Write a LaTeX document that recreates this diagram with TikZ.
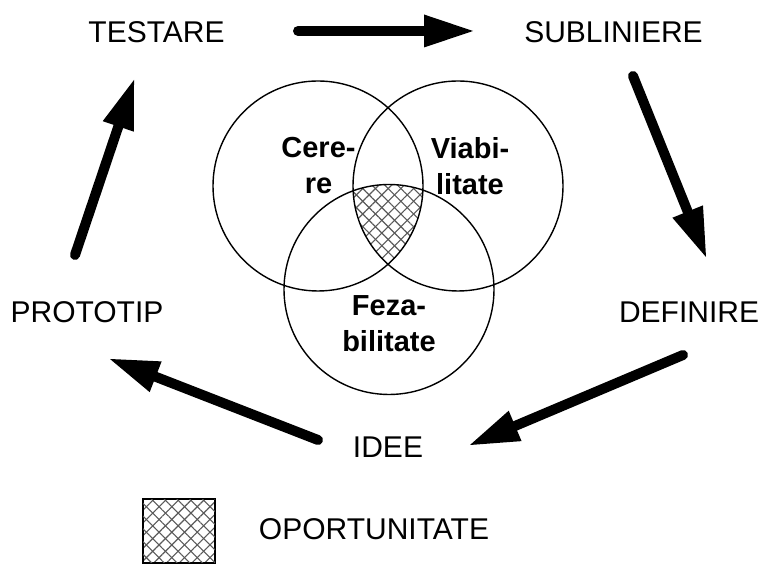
\documentclass[tikz,border=0pt]{standalone}
\usepackage{fontspec}
\setmainfont{Liberation Sans}
\usetikzlibrary{arrows.meta,patterns.meta}
\tikzset{
  lbl/.style={font=\fontsize{30}{36}\selectfont, inner sep=0pt, anchor=base},
  vlbl/.style={font=\bfseries\fontsize{29}{35.5}\selectfont, inner sep=0pt, anchor=north, align=center},
  ring/.style={draw=black, line width=1.4pt},
  bigarrow/.style={line width=10pt, line cap=round, -{Triangle[length=49pt,width=33pt,line width=0pt]}},
  hatchA/.style={pattern={Lines[angle=45,distance=9pt,line width=1.1pt]}, pattern color=black!65},
  hatchB/.style={pattern={Lines[angle=-45,distance=9pt,line width=1.1pt]}, pattern color=black!65}
}
\begin{document}
\begin{tikzpicture}[x=1pt,y=1pt]
\useasboundingbox (0,0) rectangle (760,564);
\fill[white] (0,0) rectangle (760,564);
% circles centres
\coordinate (cL) at (318,378);
\coordinate (cR) at (458,378);
\coordinate (cB) at (389,274.5);
% hatched intersection
\begin{scope}
  \clip (cL) circle[radius=105pt];
  \clip (cR) circle[radius=105pt];
  \fill[hatchA] (cB) circle[radius=105pt];
  \fill[hatchB] (cB) circle[radius=105pt];
\end{scope}
\draw[ring] (cL) circle[radius=105pt];
\draw[ring] (cR) circle[radius=105pt];
\draw[ring] (cB) circle[radius=105pt];
% circle texts
\node[vlbl] (cerere) at (318.5,426.7) {Cere-\\re};
\node[vlbl] (viab) at (470,426.7) {Viabi-\\litate};
\node[vlbl] (feza) at (389,268.3) {Feza-\\bilitate};
% outer labels
\node[lbl] (testare) at (156.5,521.7) {TESTARE};
\node[lbl] (sublin) at (613.5,521.7) {SUBLINIERE};
\node[lbl] (proto) at (87,241.7) {PROTOTIP};
\node[lbl] (defin) at (689,241.7) {DEFINIRE};
\node[lbl] (idee) at (388,106.3) {IDEE};
\node[lbl] (oport) at (374,24) {OPORTUNITATE};
% legend box
\node[draw=black, line width=1.4pt, hatchA, minimum width=72pt, minimum height=64pt, inner sep=0pt] (legend) at (179,33) {};
\fill[hatchB] (legend.south west) rectangle (legend.north east);
\draw[line width=1.4pt] (legend.south west) rectangle (legend.north east);
% arrow end points
\coordinate (a1s) at (298,533);
\coordinate (a1e) at (473,533);
\coordinate (a2s) at (633,488);
\coordinate (a2e) at (706,307);
\coordinate (a3s) at (683,209);
\coordinate (a3e) at (470,119);
\coordinate (a4s) at (318,124);
\coordinate (a4e) at (110,205);
\coordinate (a5s) at (75,309);
\coordinate (a5e) at (134,484);
\draw[bigarrow] (a1s) -- (a1e);
\draw[bigarrow] (a2s) -- (a2e);
\draw[bigarrow] (a3s) -- (a3e);
\draw[bigarrow] (a4s) -- (a4e);
\draw[bigarrow] (a5s) -- (a5e);
\end{tikzpicture}
\end{document}
